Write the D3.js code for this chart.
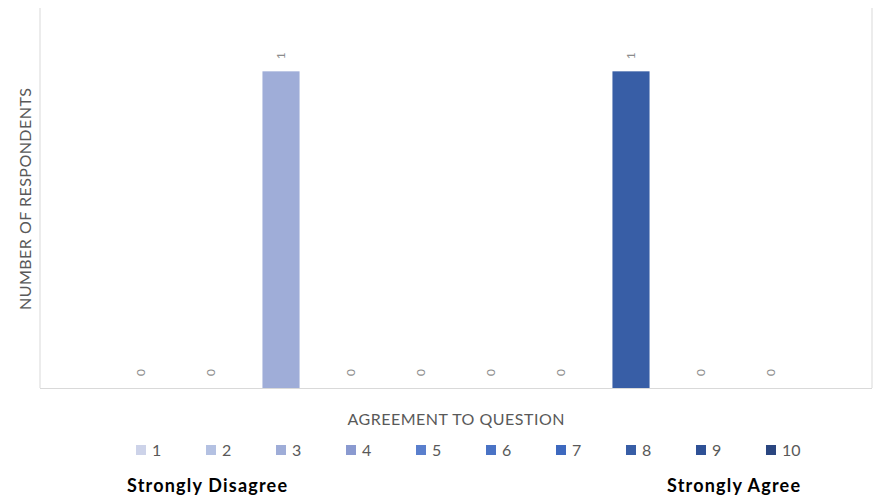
<!DOCTYPE html>
<html>
<head>
<meta charset="utf-8">
<script src="https://cdn.jsdelivr.net/npm/d3@7"></script>
<style>
  body { margin: 0; background: #fff; }
  text { font-family: Lato, 'Open Sans', sans-serif; }
</style>
</head>
<body>
<div id="chart"></div>
<script>
const seriesNames = ['1', '2', '3', '4', '5', '6', '7', '8', '9', '10']
const respondents = [0, 0, 1, 0, 0, 0, 0, 1, 0, 0]
const seriesColors = ['#cdd3e9', '#b4c1e2', '#9fadd8', '#8a9ad0', '#5a7fcd',
  '#4a73c5', '#3e69bf', '#385ea6', '#2f5196', '#2a4680']
const category = ['Q']
const scaleEnds = ['Strongly Disagree', 'Strongly Agree']

const width = 874,
  height = 500
const plot = { left: 40, right: 872, top: 8, bottom: 388 }

const svg = d3
  .select('#chart')
  .append('svg')
  .attr('width', width)
  .attr('height', height)

// one category, ten clustered series
const x0 = d3
  .scaleBand()
  .domain(category)
  .range([plot.left, plot.right])
  .paddingOuter(0.0943)
  .paddingInner(0)

const x1 = d3
  .scaleBand()
  .domain(seriesNames)
  .range([0, x0.bandwidth()])
  .paddingInner(0.47)
  .paddingOuter(0.235)

const y = d3.scaleLinear().domain([0, 1.2]).range([plot.bottom, plot.top])

const data = seriesNames.map((name, i) => ({
  name,
  value: respondents[i],
  color: seriesColors[i],
}))

// frame lines
svg.append('g')
  .selectAll('line')
  .data([
    [plot.left, plot.top, plot.left, plot.bottom],
    [plot.right, plot.top, plot.right, plot.bottom],
  ])
  .enter()
  .append('line')
  .attr('x1', d => d[0]).attr('y1', d => d[1])
  .attr('x2', d => d[2]).attr('y2', d => d[3])
  .attr('stroke', '#d9d9d9')
  .attr('stroke-width', 1)

const bars = svg.append('g')
  .attr('transform', `translate(${x0('Q')},0)`)

bars.selectAll('rect')
  .data(data)
  .enter()
  .append('rect')
  .attr('x', d => x1(d.name))
  .attr('y', d => y(d.value))
  .attr('width', x1.bandwidth())
  .attr('height', d => y(0) - y(d.value))
  .attr('fill', d => d.color)

// data labels, rotated
bars.selectAll('text')
  .data(data)
  .enter()
  .append('text')
  .attr('transform', d =>
    `translate(${x1(d.name) + x1.bandwidth() / 2},${y(d.value) - 12}) rotate(-90)`)
  .attr('dy', '0.35em')
  .attr('text-anchor', 'start')
  .attr('font-size', 12)
  .attr('fill', '#8c8c8c')
  .text(d => d.value)

// x axis baseline
const xAxis = d3.axisBottom(x0).tickSize(0).tickFormat('')
svg.append('g')
  .attr('transform', `translate(0,${plot.bottom})`)
  .call(xAxis)
  .call(g => g.select('.domain').attr('stroke', '#d9d9d9').attr('d', `M${plot.left},0.5H${plot.right}`))

// axis titles
svg.append('text')
  .attr('transform', `translate(31,199) rotate(-90)`)
  .attr('text-anchor', 'middle')
  .attr('font-size', 16)
  .attr('fill', '#595959')
  .attr('textLength', 222)
  .text('NUMBER OF RESPONDENTS')

svg.append('text')
  .attr('x', 456)
  .attr('y', 425)
  .attr('text-anchor', 'middle')
  .attr('font-size', 16)
  .attr('fill', '#595959')
  .attr('textLength', 217)
  .text('AGREEMENT TO QUESTION')

// legend
const legend = svg.append('g')
  .attr('transform', `translate(${x0('Q')},0)`)
  .selectAll('g')
  .data(data)
  .enter()
  .append('g')
  .attr('transform', d => `translate(${x1(d.name) + x1.bandwidth() / 2},450)`)

legend.append('rect')
  .attr('x', -5)
  .attr('y', -5)
  .attr('width', 10)
  .attr('height', 10)
  .attr('fill', d => d.color)

legend.append('text')
  .attr('x', 11)
  .attr('dy', '0.36em')
  .attr('font-size', 16)
  .attr('fill', '#595959')
  .text(d => d.name)

// scale end labels
svg.selectAll('.end-label')
  .data(scaleEnds)
  .enter()
  .append('text')
  .attr('class', 'end-label')
  .attr('x', (d, i) => (i === 0 ? 127 : 800))
  .attr('y', 492)
  .attr('text-anchor', (d, i) => (i === 0 ? 'start' : 'end'))
  .attr('font-size', 18)
  .attr('font-weight', 'bold')
  .attr('fill', '#000')
  .attr('textLength', (d, i) => (i === 0 ? 160 : 133))
  .text(d => d)
</script>
</body>
</html>
